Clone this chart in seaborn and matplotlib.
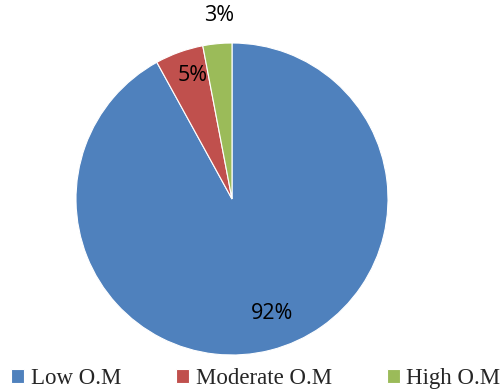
import numpy as np
import seaborn as sns
import matplotlib.pyplot as plt

# organic matter classes and share of samples (%)
categories = ['Low O.M', 'Moderate O.M', 'High O.M']
shares = [92, 5, 3]
colors = ['#4F81BD', '#C0504D', '#9BBB59']

sns.set_theme(style="white")

fig = plt.figure(figsize=(5.02, 3.92), dpi=100)
# pie area: centre (232,199) px, radius ~156 px
cx, cy, r = 232 / 502, (392 - 199) / 392, 156
ax = fig.add_axes([cx - r / 502, cy - r / 392, 2 * r / 502, 2 * r / 392])

wedges, _ = ax.pie(shares, colors=colors, startangle=90, counterclock=False,
                   wedgeprops=dict(linewidth=0.8, edgecolor='white'))
ax.set_xlim(-1, 1)
ax.set_ylim(-1, 1)
ax.set_aspect('equal')

# label distance and small angle shift per slice (the small one sits outside)
dists = [0.78, 0.83, 1.18]
shifts = [5, -2, -1.5]
for w, val, d, s in zip(wedges, shares, dists, shifts):
    ang = np.deg2rad((w.theta1 + w.theta2) / 2 + s)
    ax.text(d * np.cos(ang), d * np.sin(ang), f"{val}%", ha='center', va='center',
            fontsize=15.5, family=['Open Sans', 'DejaVu Sans'], color='black')

fig.legend(wedges, categories, loc='lower center', bbox_to_anchor=(0.51, -0.045),
           ncol=3, frameon=False, handlelength=0.55, handleheight=0.55,
           handletextpad=0.3, columnspacing=2.4,
           prop=dict(family='Liberation Serif', size=16.5))

fig.savefig('out.png', dpi=100)
